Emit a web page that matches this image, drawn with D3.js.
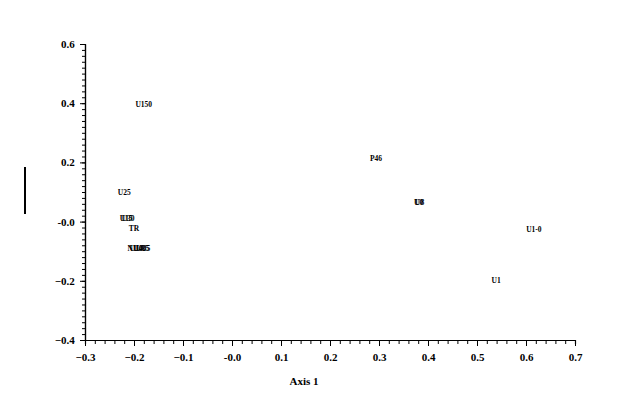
<!DOCTYPE html>
<html>
<head>
<meta charset="utf-8">
<script src="https://cdn.jsdelivr.net/npm/d3@7"></script>
<style>
  html, body { margin: 0; padding: 0; background: #fff; }
  svg { display: block; }
</style>
</head>
<body>
<svg id="chart" width="624" height="413"></svg>
<script>
const labels = ["U150", "U25", "U15", "U30", "TR", "N1", "U10", "U40", "U35", "U5", "P46", "U0", "U8", "U1-0", "U1"];
const axis1 = [-0.180, -0.220, -0.216, -0.212, -0.200, -0.204, -0.196, -0.188, -0.182, -0.176, 0.294, 0.381, 0.383, 0.616, 0.539];
const axis2 = [0.397, 0.100, 0.012, 0.012, -0.022, -0.089, -0.089, -0.089, -0.089, -0.089, 0.215, 0.066, 0.066, -0.025, -0.197];
const xTicks = [-0.3, -0.2, -0.1, 0.0, 0.1, 0.2, 0.3, 0.4, 0.5, 0.6, 0.7];
const yTicks = [-0.4, -0.2, 0.0, 0.2, 0.4, 0.6];
const xTitle = "Axis 1";

const svg = d3.select("#chart");
const x = d3.scaleLinear().domain([-0.3, 0.7]).range([85, 575]);
const y = d3.scaleLinear().domain([-0.4, 0.6]).range([340, 44]);
const fmt = v => (Math.abs(v) < 1e-9 ? "-0.0" : d3.format(".1f")(v));
const font = "'Liberation Serif', 'Times New Roman', serif";

const xMinor = d3.range(-0.3, 0.7001, 0.02);
const yMinor = d3.range(-0.4, 0.6001, 0.02);

const xAxisG = svg.append("g").attr("transform", "translate(0,340)");
xAxisG.call(d3.axisBottom(x).tickValues(xMinor).tickSize(4).tickFormat(""));
xAxisG.append("g").call(d3.axisBottom(x).tickValues(xTicks).tickSize(6).tickSizeOuter(0).tickFormat(fmt));
xAxisG.selectAll("path.domain").attr("stroke", "#000").attr("stroke-width", 1.2);
xAxisG.selectAll("line").attr("stroke", "#000").attr("stroke-width", 1);
xAxisG.selectAll("text").attr("font-family", font).attr("font-weight", "bold")
  .attr("font-size", "11px").attr("fill", "#000").attr("dy", "1.05em");

const yAxisG = svg.append("g").attr("transform", "translate(85,0)");
yAxisG.call(d3.axisLeft(y).tickValues(yMinor).tickSize(3).tickFormat(""));
yAxisG.append("g").call(d3.axisLeft(y).tickValues(yTicks).tickSize(5).tickSizeOuter(0).tickFormat(fmt));
yAxisG.selectAll("path.domain").attr("stroke", "#000").attr("stroke-width", 1.2);
yAxisG.selectAll("line").attr("stroke", "#000").attr("stroke-width", 1);
yAxisG.selectAll("text").attr("font-family", font).attr("font-weight", "bold")
  .attr("font-size", "11px").attr("fill", "#000").attr("dx", "-0.2em");

svg.append("text").attr("x", 304).attr("y", 385).attr("text-anchor", "middle")
  .attr("font-family", font).attr("font-weight", "bold").attr("font-size", "11px")
  .text(xTitle);

svg.append("rect").attr("x", 24).attr("y", 167).attr("width", 2).attr("height", 47).attr("fill", "#000");

svg.append("g").selectAll("text").data(labels).join("text")
  .attr("x", (d, i) => x(axis1[i]))
  .attr("y", (d, i) => y(axis2[i]))
  .attr("dy", "0.35em")
  .attr("text-anchor", "middle")
  .attr("font-family", font).attr("font-weight", "bold").attr("font-size", "7.5px")
  .attr("fill", "#000")
  .text(d => d);
</script>
</body>
</html>
